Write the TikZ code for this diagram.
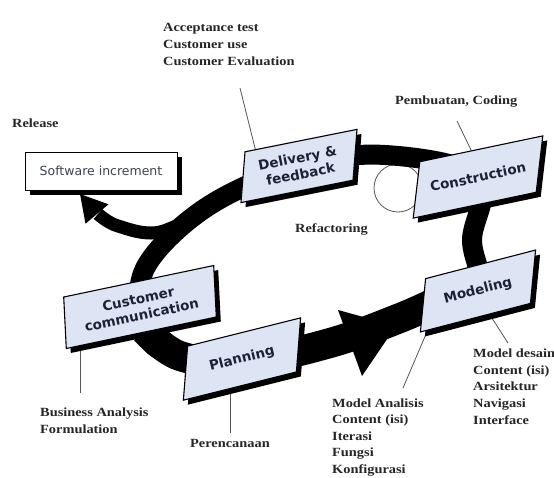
\documentclass[tikz,border=0pt]{standalone}
\usepackage{fontspec}
\newfontfamily\annotfont[FakeStretch=1.15]{Liberation Serif}
\newfontfamily\boxfont{DejaVu Sans}
\usetikzlibrary{shadows,calc}
\definecolor{boxblue}{HTML}{DDE5F5}
\definecolor{boxtext}{HTML}{1B2236}
\definecolor{notetext}{HTML}{262626}
\definecolor{leadgray}{HTML}{555555}
\begin{document}
\begin{tikzpicture}[x=1pt,y=-1pt,
  phase/.style={draw=black, line width=1.1pt, fill=boxblue, inner sep=0pt,
    drop shadow={shadow xshift=4.5pt, shadow yshift=-4.5pt, opacity=1, fill=black}},
  phasetext/.style={text=boxtext, font=\boxfont\bfseries\fontsize{13.5}{16.5}\selectfont, align=center, inner sep=0pt},
  note/.style={font=\annotfont\bfseries\fontsize{12.5}{16.8}\selectfont, text=notetext, align=left, inner sep=0pt, anchor=north west},
  leader/.style={draw=leadgray, line width=0.8pt},
  band/.style={draw=black, line width=20pt},
  head/.style={fill=black},
]
\useasboundingbox[fill=white] (0,0) rectangle (554,477);

% leader lines
\coordinate (a1) at (240,88);   \coordinate (a2) at (256,152);
\coordinate (p1) at (457,121);  \coordinate (p2) at (472,152);
\coordinate (b1) at (80,340);   \coordinate (b2) at (80,393);
\coordinate (r1) at (230,380);  \coordinate (r2) at (230,433);
\coordinate (m1) at (432,320);  \coordinate (m2) at (403,388);
\coordinate (d1) at (488,312);  \coordinate (d2) at (508,343);
\draw[leader] (a1) -- (a2);
\draw[leader] (p1) -- (p2);
\draw[leader] (b1) -- (b2);
\draw[leader] (r1) -- (r2);
\draw[leader] (m1) -- (m2);
\draw[leader] (d1) -- (d2);

% refactoring loop
\coordinate (loopc) at (398,188);
\draw[leader] (loopc) circle[radius=24pt];

% big cycle band
\draw[band] plot[smooth cycle, tension=0.6] coordinates {(299,166) (385,155) (478,177) (472,240) (478,291) (420,312) (340,342) (242,360) (160,350) (140,307) (150,260) (210,205)};
\draw[draw=black, line width=30pt] plot[smooth, tension=0.6] coordinates {(145,330) (180,356) (242,362) (330,343) (400,318) (440,300)};
\fill[head] (338,310) -- (362,376) -- (396,326) -- cycle;

% release branch
\draw[draw=black, line width=13pt] plot[smooth, tension=0.6] coordinates {(215,205) (160,232) (118,226) (98,214)};
\fill[head] (80,194) -- (85.5,223.7) -- (108.5,204.3) -- cycle;

% boxes
\node[draw=black, line width=0.8pt, fill=white, minimum width=152pt, minimum height=38pt,
  font=\boxfont\fontsize{12.5}{14}\selectfont, text=boxtext!85,
  drop shadow={shadow xshift=4.5pt, shadow yshift=-4.5pt, opacity=1, fill=black}] (soft) at (101,171) {Software increment};

\node[phase, yslant=0.20, xslant=0.08, minimum width=112pt, minimum height=50pt] (deliv) at (299,166) {};
\node[phasetext, rotate=11.3] (delivt) at (deliv.center) {Delivery \&\\feedback};

\node[phase, yslant=0.21, xslant=0.12, minimum width=123pt, minimum height=55pt] (constr) at (478,177) {};
\node[phasetext, rotate=11.9] (constrt) at (constr.center) {Construction};

\node[phase, yslant=0.26, xslant=0.10, minimum width=110pt, minimum height=52pt] (model) at (478,291) {};
\node[phasetext, rotate=14.5] (modelt) at (model.center) {Modeling};

\node[phase, yslant=0.21, xslant=-0.05, minimum width=150pt, minimum height=52pt] (cust) at (140,307) {};
\node[phasetext, rotate=11.9] (custt) at (cust.center) {Customer\\communication};

\node[phase, yslant=0.25, xslant=0.08, minimum width=113pt, minimum height=53pt] (plan) at (242,359) {};
\node[phasetext, rotate=14] (plant) at (plan.center) {Planning};

% annotations
\node[note] (accept) at (163,23.5) {Acceptance test\\Customer use\\Customer Evaluation};
\node[note, anchor=base west] (release) at (12,127) {Release};
\node[note, anchor=base west] (coding) at (395,104) {Pembuatan, Coding};
\node[note, anchor=base west] (refac) at (295,232) {Refactoring};
\node[note] (business) at (40,407.5) {Business Analysis\\Formulation};
\node[note, anchor=base west] (plantext) at (190,447) {Perencanaan};
\node[note, font=\annotfont\bfseries\fontsize{12.5}{16.5}\selectfont] (analisis) at (332,398.5) {Model Analisis\\Content (isi)\\Iterasi\\Fungsi\\Konfigurasi};
\node[note, font=\annotfont\bfseries\fontsize{12.5}{16.7}\selectfont] (desain) at (473,348.5) {Model desain\\Content (isi)\\Arsitektur\\Navigasi\\Interface};
\end{tikzpicture}
\end{document}
